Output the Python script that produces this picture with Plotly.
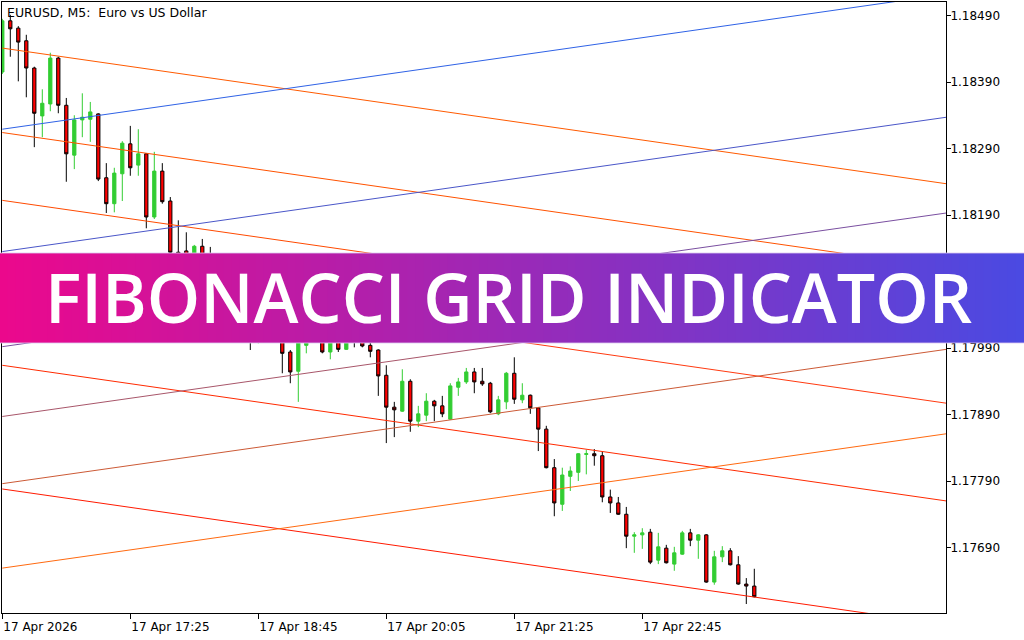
import pandas as pd
import plotly.graph_objects as go

# ---------------- data ----------------
bar_start = "2026-04-17 16:05"
n_bars = 95
times = pd.date_range(bar_start, periods=n_bars, freq="5min")

opens = [1.18405,1.18482,1.18471,1.18452,1.18411,1.18339,1.18357,1.18426,1.18355,1.18280,
         1.18333,1.18334,1.18342,1.18246,1.18207,1.18252,1.18297,1.18265,1.18282,1.18187,
         1.18256,1.18211,1.18134,1.18136,1.18119,1.18143,1.18128,1.18085,1.18107,1.18077,
         1.18047,1.18035,1.18010,1.18040,1.18017,1.18010,1.17984,1.17955,1.17994,1.18017,
         1.18005,1.17984,1.18002,1.17988,1.18005,1.18008,1.17994,1.17987,1.17949,1.17901,
         1.17895,1.17940,1.17880,1.17889,1.17910,1.17903,1.17883,1.17931,1.17939,1.17954,
         1.17940,1.17937,1.17891,1.17909,1.17952,1.17912,1.17919,1.17900,1.17868,1.17810,
         1.17755,1.17797,1.17803,1.17830,1.17831,1.17828,1.17766,1.17757,1.17740,1.17707,
         1.17709,1.17713,1.17671,1.17689,1.17665,1.17680,1.17712,1.17701,1.17709,1.17638,
         1.17676,1.17685,1.17664,1.17635,1.17632]
highs = [1.18485,1.18491,1.18474,1.18461,1.18413,1.18379,1.18434,1.18428,1.18366,1.18340,
         1.18373,1.18360,1.18343,1.18268,1.18261,1.18301,1.18324,1.18319,1.18283,1.18285,
         1.18268,1.18217,1.18182,1.18164,1.18145,1.18154,1.18142,1.18119,1.18115,1.18089,
         1.18062,1.18055,1.18047,1.18050,1.18029,1.18017,1.17987,1.18017,1.18029,1.18025,
         1.18017,1.18010,1.18013,1.18017,1.18020,1.18017,1.17998,1.17988,1.17964,1.17909,
         1.17958,1.17943,1.17903,1.17922,1.17912,1.17918,1.17937,1.17945,1.17960,1.17960,
         1.17960,1.17939,1.17918,1.17954,1.17976,1.17937,1.17920,1.17901,1.17873,1.17823,
         1.17810,1.17812,1.17832,1.17837,1.17838,1.17834,1.17777,1.17766,1.17751,1.17713,
         1.17719,1.17718,1.17712,1.17694,1.17691,1.17715,1.17718,1.17710,1.17710,1.17685,
         1.17692,1.17689,1.17677,1.17644,1.17658]
lows = [1.18402,1.18428,1.18391,1.18367,1.18292,1.18307,1.18346,1.18343,1.18240,1.18259,
        1.18307,1.18300,1.18241,1.18193,1.18194,1.18211,1.18249,1.18249,1.18170,1.18184,
        1.18207,1.18125,1.18100,1.18107,1.18110,1.18104,1.18085,1.18074,1.18062,1.18035,
        1.18025,1.17987,1.17997,1.18002,1.17999,1.17952,1.17937,1.17909,1.17982,1.18000,
        1.17982,1.17973,1.17984,1.17987,1.17991,1.17991,1.17976,1.17918,1.17847,1.17856,
        1.17894,1.17864,1.17871,1.17880,1.17880,1.17886,1.17882,1.17918,1.17936,1.17922,
        1.17933,1.17892,1.17889,1.17898,1.17906,1.17907,1.17891,1.17835,1.17809,1.17737,
        1.17745,1.17775,1.17790,1.17800,1.17813,1.17758,1.17742,1.17739,1.17689,1.17682,
        1.17688,1.17665,1.17665,1.17666,1.17655,1.17679,1.17692,1.17673,1.17637,1.17634,
        1.17668,1.17663,1.17634,1.17605,1.17615]
closes = [1.18482,1.18470,1.18450,1.18411,1.18343,1.18358,1.18426,1.18355,1.18282,1.18333,
          1.18337,1.18345,1.18244,1.18207,1.18253,1.18298,1.18261,1.18282,1.18187,1.18256,
          1.18210,1.18134,1.18115,1.18119,1.18143,1.18116,1.18100,1.18107,1.18077,1.18047,
          1.18035,1.18010,1.18040,1.18017,1.18005,1.17982,1.17954,1.18010,1.18017,1.18005,
          1.17984,1.18002,1.17988,1.18005,1.18002,1.17993,1.17985,1.17948,1.17901,1.17897,
          1.17940,1.17880,1.17891,1.17910,1.17903,1.17891,1.17933,1.17939,1.17954,1.17939,
          1.17936,1.17894,1.17912,1.17952,1.17913,1.17919,1.17900,1.17868,1.17810,1.17757,
          1.17799,1.17805,1.17831,1.17831,1.17828,1.17766,1.17757,1.17740,1.17707,1.17709,
          1.17712,1.17668,1.17691,1.17667,1.17682,1.17712,1.17701,1.17709,1.17638,1.17676,
          1.17685,1.17664,1.17635,1.17632,1.17616]

# Fibonacci grid lines: price at the two anchor times
line_t0 = "2026-04-17 16:05"
line_t1 = "2026-04-18 01:55"
down_start = [1.18441, 1.18314, 1.18212, 1.18111, 1.17964, 1.17778]
down_end = [1.18237, 1.18110, 1.18008, 1.17907, 1.17760, 1.17574]
down_colors = ["#ff5a00", "#ff5200", "#ff4a00", "#ff3a10", "#ff2a00", "#ff1a00"]
up_start = [1.18319, 1.18135, 1.17992, 1.17887, 1.17786, 1.17659]
up_end = [1.18522, 1.18337, 1.18193, 1.18089, 1.17988, 1.17861]
up_colors = ["#2f62e6", "#4a56c8", "#7a4fa0", "#a8566a", "#cc5a36", "#ff6a10"]

price_ticks = [1.17690, 1.17790, 1.17890, 1.17990, 1.18090, 1.18190, 1.18290, 1.18390, 1.18490]
time_ticks = ["2026-04-17 16:05", "2026-04-17 17:25", "2026-04-17 18:45",
              "2026-04-17 20:05", "2026-04-17 21:25", "2026-04-17 22:45"]
time_tick_text = ["17 Apr 2026", "17 Apr 17:25", "17 Apr 18:45",
                  "17 Apr 20:05", "17 Apr 21:25", "17 Apr 22:45"]

chart_title = "EURUSD, M5:\u00a0 Euro vs US Dollar"
banner_text = "FIBONACCI GRID INDICATOR"

# ---------------- figure ----------------
W, H = 1024, 640
ML, MR, MT, MB = 2, 78, 2, 27
PW, PH = W - ML - MR, H - MT - MB

def px_x(p):
    return (p - ML) / PW

def px_y(p):
    return (H - MB - p) / PH

fig = go.Figure()

fig.add_trace(go.Candlestick(
    x=times, open=opens, high=highs, low=lows, close=closes,
    increasing=dict(line=dict(color="#32cd32", width=1), fillcolor="#32cd32"),
    decreasing=dict(line=dict(color="#000000", width=1), fillcolor="#ff0000"),
    whiskerwidth=0, showlegend=False, hoverinfo="skip",
))

for s, e, c in zip(down_start + up_start, down_end + up_end, down_colors + up_colors):
    fig.add_trace(go.Scatter(
        x=[line_t0, line_t1], y=[s, e], mode="lines",
        line=dict(color=c, width=1), showlegend=False, hoverinfo="skip",
    ))

# gradient banner
shapes = []
N = 128
c0 = (236, 8, 140)
c1 = (74, 74, 226)
by0, by1 = 253, 343
for k in range(N):
    t = (k + 0.5) / N
    col = tuple(round(c0[j] + (c1[j] - c0[j]) * t) for j in range(3))
    shapes.append(dict(
        type="rect", xref="paper", yref="paper",
        x0=px_x(k * W / N - 0.5), x1=px_x((k + 1) * W / N + 0.5),
        y0=px_y(by1), y1=px_y(by0),
        fillcolor="rgb(%d,%d,%d)" % col, line=dict(width=0), layer="above",
    ))
for yy in (by0, by1):
    shapes.append(dict(
        type="line", xref="paper", yref="paper",
        x0=px_x(0), x1=px_x(W), y0=px_y(yy), y1=px_y(yy),
        line=dict(color="rgba(220,200,240,0.8)", width=1), layer="above",
    ))

fig.update_layout(
    width=W, height=H,
    margin=dict(l=ML, r=MR, t=MT, b=MB, autoexpand=False),
    paper_bgcolor="white", plot_bgcolor="white",
    boxgap=0.42,
    shapes=shapes,
    xaxis=dict(
        type="date", automargin=False,
        range=["2026-04-17 16:04:48.75", "2026-04-18 01:54:48.75"],
        rangeslider=dict(visible=False),
        showgrid=False, zeroline=False,
        showline=True, mirror=True, linecolor="black", linewidth=1,
        ticks="outside", ticklen=5, tickcolor="black", tickwidth=1,
        tickvals=time_ticks, ticktext=time_tick_text,
        ticklabelposition="outside right", ticklabelstandoff=3,
        tickfont=dict(family="DejaVu Sans", size=12, color="black"),
    ),
    yaxis=dict(
        side="right", automargin=False,
        range=[1.175915, 1.185103],
        showgrid=False, zeroline=False,
        showline=True, mirror=True, linecolor="black", linewidth=1,
        ticks="outside", ticklen=4, tickcolor="black", tickwidth=1,
        tickvals=price_ticks, ticktext=["%.5f" % v for v in price_ticks],
        ticklabelstandoff=-3,
        tickfont=dict(family="DejaVu Sans", size=12, color="black"),
    ),
    annotations=[
        dict(text=chart_title, xref="paper", yref="paper",
             x=px_x(5), y=px_y(13), xanchor="left", yanchor="middle",
             showarrow=False, font=dict(family="DejaVu Sans", size=12.5, color="black")),
        dict(text=banner_text, xref="paper", yref="paper",
             x=px_x(508), y=px_y(296), xanchor="center", yanchor="middle",
             showarrow=False,
             font=dict(family="Open Sans", size=68, weight=600, color="white")),
    ],
)

fig.write_html(
    "out.html",
    config={"displayModeBar": False},
    post_script="document.body.style.margin='0';document.body.style.overflow='hidden';",
)
